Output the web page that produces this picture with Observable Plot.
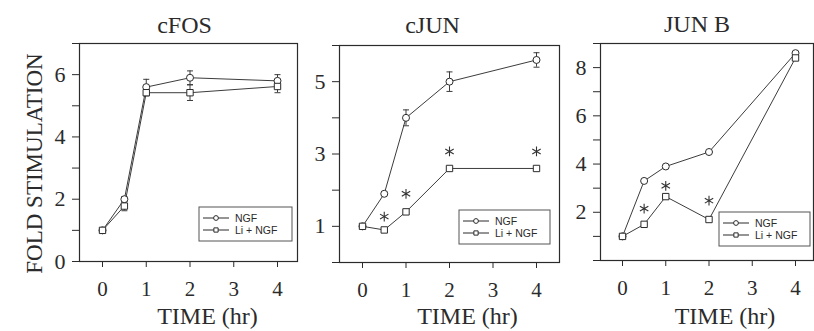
<!DOCTYPE html>
<html><head><meta charset="utf-8">
<script src="https://cdn.jsdelivr.net/npm/d3@7"></script>
<script src="https://cdn.jsdelivr.net/npm/@observablehq/plot@0.6"></script>
<style>
html,body{margin:0;padding:0;background:#fff;}
#chart{position:relative;width:814px;height:331px;overflow:hidden;background:#fff;}
#chart svg{position:absolute;top:0;overflow:visible;}
</style></head><body><div id="chart"></div>
<script>
// ---- data ----
const times = [0, 0.5, 1, 2, 4];
const xTicks = [0, 1, 2, 3, 4];
const titles = ["cFOS", "cJUN", "JUN B"];
const seriesNames = ["NGF", "Li + NGF"];
const yAxisTitle = "FOLD STIMULATION";
const xAxisTitle = "TIME (hr)";

const cfosNGF    = [1.0, 2.0, 5.6, 5.9, 5.8];
const cfosNGFErr = [0.03, 0.08, 0.25, 0.22, 0.2];
const cfosLi     = [1.0, 1.78, 5.42, 5.42, 5.62];
const cfosLiErr  = [0.03, 0.15, 0.1, 0.25, 0.2];
const cfosYTicks = [0, 1, 2, 3, 4, 5, 6, 7];
const cfosYLabels = [0, 2, 4, 6];

const cjunNGF    = [1.0, 1.9, 4.0, 5.0, 5.6];
const cjunNGFErr = [0.05, 0.05, 0.22, 0.27, 0.2];
const cjunLi     = [1.0, 0.9, 1.4, 2.6, 2.6];
const cjunLiErr  = [0.05, 0, 0.05, 0, 0];
const cjunStarX  = [0.5, 1, 2, 4];
const cjunStarY  = [1.27, 1.9, 3.07, 3.07];
const cjunYTicks = [0, 1, 2, 3, 4, 5, 6];
const cjunYLabels = [1, 3, 5];

const junbNGF    = [1.0, 3.3, 3.9, 4.5, 8.6];
const junbLi     = [1.0, 1.5, 2.65, 1.7, 8.4];
const junbStarX  = [0.5, 1, 2];
const junbStarY  = [2.15, 3.1, 2.48];
const junbYTicks = [0, 1, 2, 3, 4, 5, 6, 7, 8, 9];
const junbYLabels = [2, 4, 6, 8];

// ---- style ----
const SERIF = '"Liberation Serif","Times New Roman",Times,serif';
const SANS = '"Liberation Sans",Arial,Helvetica,sans-serif';
const INK = "#2b2b2b";
const LINE = "#3c3c3c";
const capSymbol = {draw(ctx, size) { const w = Math.sqrt(size) / 2; ctx.moveTo(-w, 0); ctx.lineTo(w, 0); }};

function rows(vals, errs) {
  return times.map((t, i) => ({t, v: vals[i], e: errs ? errs[i] : 0}));
}

function panel(cfg) {
  const ngf = rows(cfg.ngf, cfg.ngfErr);
  const li = rows(cfg.li, cfg.liErr);
  const errs = [...ngf, ...li].filter(d => d.e > 0);
  const caps = errs.flatMap(d => [{t: d.t, v: d.v - d.e}, {t: d.t, v: d.v + d.e}]);
  const stars = (cfg.starX || []).map((x, i) => ({t: x, v: cfg.starY[i]}));
  const marks = [
    Plot.frame({stroke: INK, strokeWidth: 1.2}),
    Plot.axisX(xTicks, {label: null, tickSize: 6, tickPadding: 14, stroke: INK, fill: INK, fontSize: 21, tickFormat: d => String(d)}),
    Plot.axisY(cfg.yTicks, {label: null, tickSize: 7, tickPadding: 7, stroke: INK, fill: INK, fontSize: 22,
      tickFormat: d => cfg.yLabels.includes(d) ? String(d) : ""}),
    Plot.ruleX(errs, {x: "t", y1: d => d.v - d.e, y2: d => d.v + d.e, stroke: LINE, strokeWidth: 1}),
    Plot.dot(caps, {x: "t", y: "v", symbol: capSymbol, r: 3.4, stroke: LINE, strokeWidth: 1}),
    Plot.line(ngf, {x: "t", y: "v", stroke: LINE, strokeWidth: 1}),
    Plot.line(li, {x: "t", y: "v", stroke: LINE, strokeWidth: 1}),
    Plot.dot(ngf, {x: "t", y: "v", symbol: "circle", r: 3.5, fill: "white", stroke: INK, strokeWidth: 1}),
    Plot.dot(li, {x: "t", y: "v", symbol: "square", r: 3.6, fill: "white", stroke: INK, strokeWidth: 1}),
    Plot.dot(stars, {x: "t", y: "v", symbol: "asterisk", r: 4.6, stroke: "#333", strokeWidth: 1.1}),
    Plot.text([cfg.title], {frameAnchor: "top", textAnchor: "middle", lineAnchor: "middle", dx: cfg.titleDx, dy: cfg.titleDy, fontSize: 24, fill: INK}),
    Plot.text([xAxisTitle], {frameAnchor: "bottom", textAnchor: "middle", lineAnchor: "middle", dx: cfg.timeDx, dy: cfg.timeDy, fontSize: 24, fill: INK})
  ];
  if (cfg.yTitle) {
    marks.push(Plot.text([cfg.yTitle], {frameAnchor: "left", textAnchor: "middle", lineAnchor: "middle", rotate: -90,
      dx: cfg.yTitleDx, dy: cfg.yTitleDy, fontSize: 23, fill: INK}));
  }
  const svg = Plot.plot({
    width: cfg.width, height: 331,
    marginLeft: cfg.mL, marginRight: cfg.mR, marginTop: cfg.mT, marginBottom: 331 - cfg.yRange[0],
    x: {domain: [0, 4], range: cfg.xRange},
    y: {domain: cfg.yDomain, range: cfg.yRange},
    style: {fontFamily: SERIF, fontSize: "22px", color: INK, background: "transparent", overflow: "visible"},
    marks
  });
  svg.style.left = cfg.left + "px";
  // legend box inside the frame
  const L = cfg.legend;
  const g = d3.select(svg).append("g").attr("transform", `translate(${L.x},${L.y})`).attr("text-anchor", "start");
  g.append("rect").attr("width", L.w).attr("height", L.h).attr("fill", "white").attr("stroke", "#555").attr("stroke-width", 1);
  const syms = [d3.symbolCircle, d3.symbolSquare];
  seriesNames.forEach((name, i) => {
    const cy = L.h / 2 + (i === 0 ? -6 : 6);
    g.append("line").attr("x1", 4).attr("x2", 30).attr("y1", cy).attr("y2", cy).attr("stroke", INK).attr("stroke-width", 1);
    g.append("path").attr("d", d3.symbol(syms[i], 18)()).attr("transform", `translate(17,${cy})`)
      .attr("fill", "white").attr("stroke", INK).attr("stroke-width", 1);
    g.append("text").attr("x", 36).attr("y", cy).attr("dy", "0.35em").attr("text-anchor", "start").attr("font-family", SANS)
      .attr("font-size", 10.5).attr("fill", INK).text(name);
  });
  document.getElementById("chart").appendChild(svg);
}

panel({left: 0, width: 305, mL: 79, mR: 8, mT: 43, xRange: [102, 277], yDomain: [0, 7], yRange: [261, 43],
  yTicks: cfosYTicks, yLabels: cfosYLabels, title: titles[0], titleDx: -4, titleDy: -18, timeDx: 19, timeDy: 55,
  ngf: cfosNGF, ngfErr: cfosNGFErr, li: cfosLi, liErr: cfosLiErr,
  yTitle: yAxisTitle, yTitleDx: -45, yTitleDy: 11,
  legend: {x: 199, y: 207, w: 93, h: 34}});

panel({left: 305, width: 260, mL: 34, mR: 6, mT: 45, xRange: [57, 231], yDomain: [0, 6], yRange: [262, 45],
  yTicks: cjunYTicks, yLabels: cjunYLabels, title: titles[1], titleDx: -17, titleDy: -20, timeDx: 18, timeDy: 54,
  ngf: cjunNGF, ngfErr: cjunNGFErr, li: cjunLi, liErr: cjunLiErr, starX: cjunStarX, starY: cjunStarY,
  legend: {x: 154, y: 210, w: 91, h: 34}});

panel({left: 565, width: 249, mL: 35, mR: 1, mT: 43, xRange: [57, 230], yDomain: [0, 9], yRange: [260, 43],
  yTicks: junbYTicks, yLabels: junbYLabels, title: titles[2], titleDx: -10, titleDy: -19, timeDx: 18, timeDy: 56,
  ngf: junbNGF, li: junbLi, starX: junbStarX, starY: junbStarY,
  legend: {x: 154, y: 212, w: 91, h: 34}});
</script></body></html>
